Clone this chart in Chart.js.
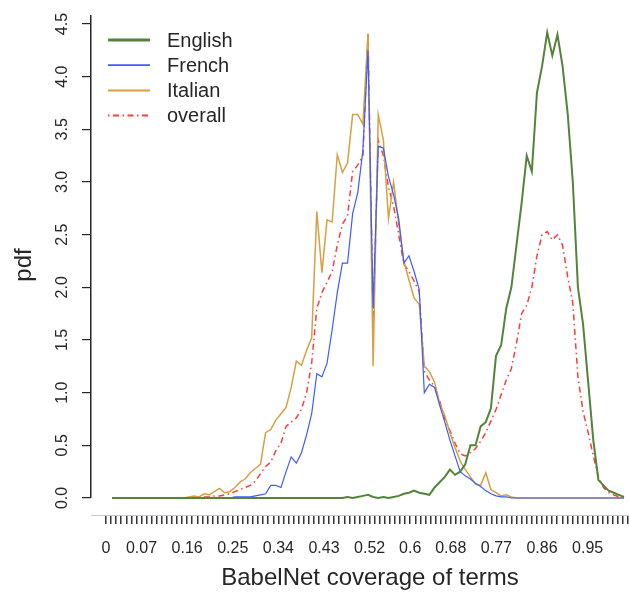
<!DOCTYPE html>
<html><head><meta charset="utf-8">
<script src="https://cdn.jsdelivr.net/npm/chart.js@4/dist/chart.umd.min.js"></script>
<style>html,body{margin:0;padding:0;background:#fff;overflow:hidden;width:629px;height:593px}#wrap{width:629px;height:593px;overflow:hidden}</style>
</head><body><div id="wrap"><canvas id="c" width="649" height="593"></canvas></div>
<script>
// coverage bins (x), 0.00 .. 1.00 in steps of 0.01
const coverage = Array.from({length: 101}, (_, i) => +(i / 100).toFixed(2));
// density values, one per bin
const english = [
 0,0,0,0,0,0,0,0,0,0,
 0,0,0,0,0,0,0,0,0,0,
 0,0,0,0,0,0,0,0,0,0,
 0,0,0,0,0,0,0,0,0,0,
 0,0,0,0,0,0,0.01,0,0.01,0.02,
 0.03,0.01,0,0.01,0,0.01,0.02,0.04,0.05,0.07,
 0.05,0.04,0.03,0.1,0.15,0.2,0.27,0.22,0.25,0.32,
 0.5,0.5,0.68,0.72,0.85,1.35,1.45,1.8,2.0,2.4,
 2.8,3.25,3.1,3.85,4.1,4.42,4.2,4.4,4.1,3.65,
 3.0,2.0,1.65,1.1,0.55,0.17,0.12,0.07,0.05,0.03,0.01];
const french = [
 0,0,0,0,0,0,0,0,0,0,
 0,0,0,0,0,0,0,0,0,0,
 0,0,0,0,0.01,0.01,0.01,0.01,0.02,0.03,
 0.04,0.12,0.12,0.1,0.25,0.39,0.33,0.43,0.6,0.8,
 1.18,1.15,1.28,1.6,1.95,2.23,2.23,2.7,2.9,3.3,
 4.25,1.8,3.34,3.32,3.05,2.88,2.65,2.23,2.3,2.15,
 1.98,1.0,1.08,1.05,0.88,0.72,0.55,0.4,0.25,0.21,
 0.18,0.14,0.11,0.07,0.04,0.02,0.01,0.01,0,0,
 0,0,0,0,0,0,0,0,0,0,
 0,0,0,0,0,0,0,0,0,0,0];
const italian = [
 0,0,0,0,0,0,0,0,0,0,
 0,0,0,0,0,0.01,0.02,0.01,0.04,0.03,
 0.06,0.09,0.05,0.06,0.1,0.15,0.18,0.24,0.28,0.32,
 0.62,0.65,0.74,0.8,0.86,1.05,1.3,1.26,1.4,1.52,
 2.72,2.14,2.64,2.62,3.26,3.09,3.18,3.64,3.64,3.55,
 4.41,1.25,3.64,3.4,2.65,3.0,2.6,2.25,2.07,1.9,
 1.84,1.25,1.2,1.1,0.9,0.78,0.62,0.48,0.35,0.27,
 0.2,0.13,0.12,0.24,0.08,0.05,0.02,0.03,0.01,0,
 0,0,0,0,0,0,0,0,0,0,
 0,0,0,0,0,0,0,0,0,0,0];
const overall = [
 0,0,0,0,0,0,0,0,0,0,
 0,0,0,0,0,0,0,0.01,0.01,0.01,
 0.02,0.02,0.03,0.04,0.06,0.08,0.1,0.12,0.16,0.23,
 0.3,0.34,0.45,0.52,0.68,0.72,0.76,0.84,1.0,1.28,
 1.8,1.95,2.05,2.15,2.4,2.6,2.68,3.1,3.16,3.25,
 4.41,1.65,3.4,3.25,2.95,2.77,2.5,2.22,2.15,2.06,
 1.96,1.2,1.12,1.06,0.92,0.75,0.64,0.52,0.42,0.4,
 0.43,0.47,0.54,0.62,0.73,0.84,0.98,1.12,1.23,1.47,
 1.75,1.83,2.0,2.3,2.5,2.53,2.45,2.5,2.4,2.1,
 1.85,1.15,0.82,0.62,0.4,0.2,0.1,0.05,0.03,0.01,0];
const seriesNames = ['English', 'French', 'Italian', 'overall'];
const yTicks = [0, 0.5, 1, 1.5, 2, 2.5, 3, 3.5, 4, 4.5];
// tick strip under the plot: one mark per 0.01, labels only where R printed them
const stripTicks = Array.from({length: 108}, (_, i) => +(i / 100).toFixed(2));
const xTickLabels = ['0','0.07','0.16','0.25','0.34','0.43','0.52','0.6','0.68','0.77','0.86','0.95'];

const FONT = "'Liberation Sans', Arial, Helvetica, sans-serif";
const TXT = '#262626';

function mk(label, vals, color, width, dash) {
  return {label, data: coverage.map((x, i) => ({x, y: vals[i]})),
    borderColor: color, backgroundColor: color, borderWidth: width, borderDash: dash || [],
    pointRadius: 0, tension: 0, fill: false, xAxisID: 'x', yAxisID: 'y'};
}

const axisLine = {
  id: 'axisLine',
  afterDraw(chart) {
    const {ctx, chartArea, scales} = chart;
    const y = scales.y;
    ctx.save();
    ctx.strokeStyle = TXT; ctx.lineWidth = 1.5;
    ctx.beginPath();
    const x = Math.round(chartArea.left) - 0.25;
    ctx.moveTo(x, chartArea.top);
    ctx.lineTo(x, y.getPixelForValue(yTicks[0]));
    ctx.stroke();
    ctx.restore();
  }
};

const insideLegend = {
  id: 'insideLegend',
  afterDraw(chart) {
    const {ctx, chartArea} = chart;
    ctx.save();
    ctx.font = '20px ' + FONT;
    ctx.textBaseline = 'middle';
    ctx.textAlign = 'left';
    chart.data.datasets.forEach((ds, i) => {
      const yy = chartArea.top + 25 + i * 25.2;
      ctx.strokeStyle = ds.borderColor;
      ctx.lineWidth = ds.borderWidth + (i === 0 ? 1 : 0.5);
      ctx.setLineDash(ds.borderDash || []);
      ctx.beginPath();
      ctx.moveTo(chartArea.left + 17, yy);
      ctx.lineTo(chartArea.left + 59, yy);
      ctx.stroke();
      ctx.setLineDash([]);
      ctx.fillStyle = TXT;
      ctx.fillText(ds.label, chartArea.left + 76, yy + 1);
    });
    ctx.restore();
  }
};

new Chart(document.getElementById('c').getContext('2d'), {
  type: 'line',
  data: {datasets: [
    mk(seriesNames[0], english, '#52843a', 2),
    mk(seriesNames[1], french, '#3d5cff', 1.2),
    mk(seriesNames[2], italian, '#d6a043', 1.5),
    mk(seriesNames[3], overall, '#ff3b3b', 1.5, [1.5, 3.5, 6, 3.5])
  ]},
  options: {
    responsive: false, animation: false, devicePixelRatio: 1,
    layout: {padding: {left: 0, right: 0, top: 15, bottom: 0}},
    plugins: {legend: {display: false}, tooltip: {enabled: false}, title: {display: false}},
    scales: {
      x: {type: 'linear', display: false, min: -0.041, max: 1.0488},
      xt: {
        type: 'linear', position: 'bottom', min: -0.0296, max: 1.071,
        afterBuildTicks: s => { s.ticks = stripTicks.map(v => ({value: v})); },
        afterFit: s => { s.height = 78; s.paddingLeft = 0; s.paddingRight = 0; },
        grid: {drawOnChartArea: false, drawTicks: true, tickLength: 9, color: '#333333', lineWidth: 1.5},
        border: {display: true, color: '#c8c8c8', width: 1},
        ticks: {autoSkip: false, maxRotation: 0, minRotation: 0, padding: 15,
          font: {family: FONT, size: 16}, color: TXT,
          callback: v => { const r = Math.round(v * 100) / 100; const s = xTickLabels.find(l => Number(l) === r); return s === undefined ? '' : s; }},
        title: {display: true, text: 'BabelNet coverage of terms', font: {family: FONT, size: 24}, color: TXT, padding: {top: 0, bottom: 0}}
      },
      y: {
        type: 'linear', position: 'left', min: -0.1614, max: 4.5855,
        afterBuildTicks: s => { s.ticks = yTicks.map(v => ({value: v})); },
        afterFit: s => { s.width = 91; s.paddingTop = 0; s.paddingBottom = 0; },
        grid: {drawOnChartArea: false, drawTicks: true, tickLength: 9, color: TXT, lineWidth: 1.2},
        border: {display: false},
        ticks: {minRotation: 90, maxRotation: 90, crossAlign: 'center', padding: 8,
          font: {family: FONT, size: 16}, color: TXT, callback: v => v.toFixed(1)},
        title: {display: true, text: 'pdf', font: {family: FONT, size: 24}, color: TXT, padding: {top: 10, bottom: 0}}
      }
    }
  },
  plugins: [axisLine, insideLegend]
});
</script></body></html>
